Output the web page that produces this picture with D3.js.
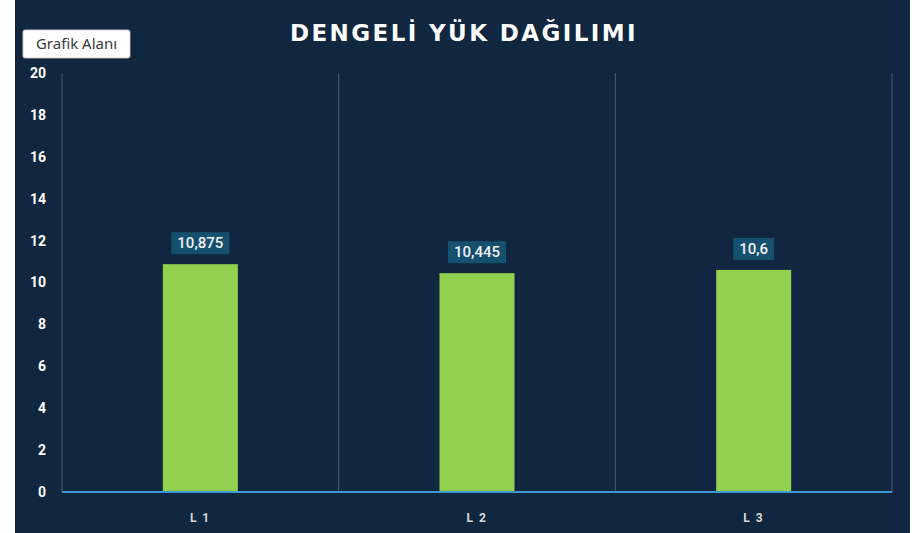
<!DOCTYPE html>
<html>
<head>
<meta charset="utf-8">
<script src="https://cdn.jsdelivr.net/npm/d3@7"></script>
<style>
  body { margin: 0; background: #fff; }
  svg { display: block; }
</style>
</head>
<body>
<svg id="chart" width="924" height="533"></svg>
<script>
// chart data
const categories = ["L 1", "L 2", "L 3"];
const values = [10.875, 10.445, 10.6];
const valueLabels = ["10,875", "10,445", "10,6"];
const yTicks = [0, 2, 4, 6, 8, 10, 12, 14, 16, 18, 20];

const svg = d3.select("#chart");

// dark panel
svg.append("rect")
  .attr("x", 15).attr("y", 0)
  .attr("width", 895).attr("height", 533)
  .attr("fill", "#10273f");

const margin = { left: 62, right: 892, top: 73, bottom: 492 };

let x = d3.scaleBand()
  .domain(categories)
  .range([margin.left, margin.right])
  .paddingInner(0)
  .paddingOuter(0);

let y = d3.scaleLinear()
  .domain([0, 20])
  .range([margin.bottom, margin.top]);

// vertical separators between categories
let seps = [margin.left].concat(categories.map((c) => x(c) + x.bandwidth()));
svg.append("g")
  .selectAll("line")
  .data(seps)
  .join("line")
  .attr("x1", (d) => d).attr("x2", (d) => d)
  .attr("y1", margin.top).attr("y2", margin.bottom)
  .attr("stroke", "#4b5e73")
  .attr("stroke-width", 1);

// y tick labels
svg.append("g")
  .selectAll("text")
  .data(yTicks)
  .join("text")
  .attr("x", 46)
  .attr("y", (d) => y(d))
  .attr("dy", "0.35em")
  .attr("text-anchor", "end")
  .attr("fill", "#ffffff")
  .attr("font-family", "Roboto, 'Noto Sans', sans-serif")
  .attr("font-weight", "bold")
  .attr("font-size", 14)
  .text((d) => d);

// bars
let barW = 75;
svg.append("g")
  .selectAll("rect")
  .data(values)
  .join("rect")
  .attr("x", (d, i) => x(categories[i]) + x.bandwidth() / 2 - barW / 2)
  .attr("y", (d) => y(d))
  .attr("width", barW)
  .attr("height", (d) => y(0) - y(d))
  .attr("fill", "#92d050");

// value label boxes
let lbl = svg.append("g")
  .selectAll("g")
  .data(values)
  .join("g")
  .attr("transform", (d, i) =>
    `translate(${x(categories[i]) + x.bandwidth() / 2}, ${y(d) - 21})`);

lbl.append("text")
  .attr("text-anchor", "middle")
  .attr("dy", "0.35em")
  .attr("fill", "#f2f2f2")
  .attr("font-family", "Roboto, 'Noto Sans', sans-serif")
  .attr("font-weight", 500)
  .attr("font-size", 15)
  .text((d, i) => valueLabels[i])
  .each(function () {
    let b = this.getBBox();
    d3.select(this.parentNode).insert("rect", "text")
      .attr("x", b.x - 6).attr("y", -11)
      .attr("width", b.width + 12).attr("height", 22)
      .attr("fill", "#16506f");
  });

// x axis line
svg.append("line")
  .attr("x1", margin.left).attr("x2", margin.right)
  .attr("y1", y(0)).attr("y2", y(0))
  .attr("stroke", "#3b9bd0")
  .attr("stroke-width", 2);

// category labels
svg.append("g")
  .selectAll("text")
  .data(categories)
  .join("text")
  .attr("x", (d) => x(d) + x.bandwidth() / 2)
  .attr("y", 518)
  .attr("dy", "0.35em")
  .attr("text-anchor", "middle")
  .attr("fill", "#d9d9d9")
  .attr("font-family", "Roboto, 'Noto Sans', sans-serif")
  .attr("font-weight", "bold")
  .attr("font-size", 12)
  .attr("letter-spacing", 1.5)
  .text((d) => d);

// title
svg.append("text")
  .attr("x", 464)
  .attr("y", 41)
  .attr("text-anchor", "middle")
  .attr("fill", "#ffffff")
  .attr("font-family", "'DejaVu Sans', sans-serif")
  .attr("font-weight", "bold")
  .attr("font-size", 23)
  .attr("letter-spacing", 2.4)
  .text("DENGELİ YÜK DAĞILIMI");

// tooltip box
let tip = svg.append("g").attr("transform", "translate(23, 30)");
tip.append("rect")
  .attr("x", 1.5).attr("y", 1.5)
  .attr("width", 107).attr("height", 28)
  .attr("rx", 2)
  .attr("fill", "rgba(0,0,0,0.35)");
tip.append("rect")
  .attr("width", 107).attr("height", 28)
  .attr("rx", 2)
  .attr("fill", "#ffffff")
  .attr("stroke", "#c8c8c8");
tip.append("text")
  .attr("x", 53.5).attr("y", 14)
  .attr("dy", "0.35em")
  .attr("text-anchor", "middle")
  .attr("fill", "#3a3a3a")
  .attr("font-family", "'Noto Sans', sans-serif")
  .attr("font-size", 15)
  .text("Grafik Alanı");
</script>
</body>
</html>
